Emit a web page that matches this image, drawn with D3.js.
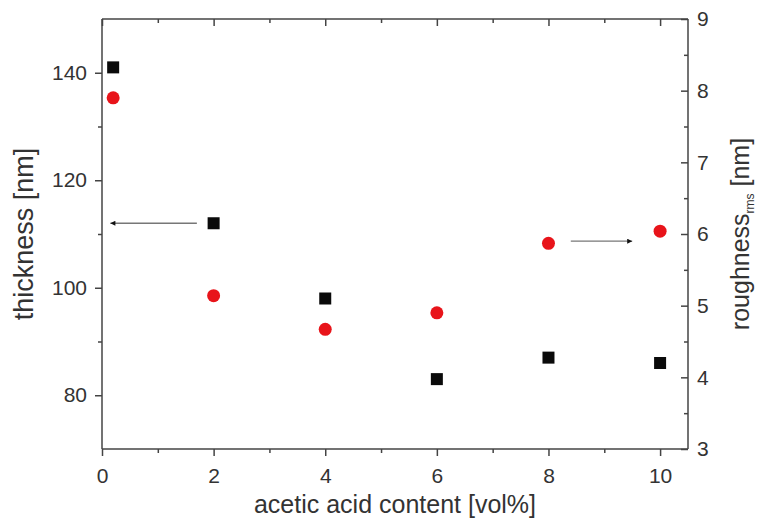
<!DOCTYPE html>
<html>
<head>
<meta charset="utf-8">
<script src="https://cdn.jsdelivr.net/npm/d3@7"></script>
<style>
  body { margin: 0; background: #fff; }
  text { font-family: "Liberation Sans", Arial, sans-serif; fill: #333; }
</style>
</head>
<body>
<svg id="base" width="758" height="524"></svg>
<script>
// data
const acid = [0.2, 2, 4, 6, 8, 10];
const thickness = [141, 112, 98, 83, 87, 86];
const roughness = [7.9, 5.14, 4.67, 4.9, 5.87, 6.04];
const xTicks = [0, 2, 4, 6, 8, 10];
const leftTicks = [80, 100, 120, 140];
const rightTicks = [3, 4, 5, 6, 7, 8, 9];
// arrows: [x1, x2, y] in data units
const arrowLeft = [1.7, 0.15, 112];
const arrowRight = [8.4, 9.5, 5.9];

const svg = d3.select("#base");
const plotLeft = 102, plotRight = 688, plotTop = 19, plotBottom = 449;
const axisColor = "#444";

const x = d3.scaleLinear().domain([0, 10.5]).range([plotLeft, plotRight]);
const yL = d3.scaleLinear().domain([70, 150]).range([plotBottom, plotTop]);
const yR = d3.scaleLinear().domain([3, 9]).range([plotBottom, plotTop]);

svg.append("defs").append("marker")
    .attr("id", "head")
    .attr("viewBox", "0 0 10 10")
    .attr("refX", 10).attr("refY", 5)
    .attr("markerWidth", 8).attr("markerHeight", 5)
    .attr("markerUnits", "userSpaceOnUse")
    .attr("orient", "auto")
    .append("path").attr("d", "M0,0L10,5L0,10z").attr("fill", "#111");

// axes
function styleAxis(g) {
    g.selectAll("path, line").attr("stroke", axisColor).attr("stroke-width", 1.5);
    g.selectAll("text").attr("fill", "#333").style("font-size", "21px")
        .style("font-family", "'Liberation Sans', Arial, sans-serif");
}

// minor ticks
const gMinorB = svg.append("g").attr("transform", `translate(0,${plotBottom})`)
    .call(d3.axisBottom(x).tickValues([1, 3, 5, 7, 9]).tickSize(4).tickFormat(""));
const gMinorT = svg.append("g").attr("transform", `translate(0,${plotTop})`)
    .call(d3.axisBottom(x).tickValues([1, 3, 5, 7, 9]).tickSize(4).tickFormat(""));
const gMinorT2 = svg.append("g").attr("transform", `translate(0,${plotTop})`)
    .call(d3.axisBottom(x).tickValues(xTicks).tickSize(7).tickFormat(""));
const gMinorL = svg.append("g").attr("transform", `translate(${plotLeft},0)`)
    .call(d3.axisLeft(yL).tickValues([90, 110, 130]).tickSize(4).tickFormat(""));
const gMinorR = svg.append("g").attr("transform", `translate(${plotRight},0)`)
    .call(d3.axisLeft(yR).tickValues([3.5, 4.5, 5.5, 6.5, 7.5, 8.5]).tickSize(4).tickFormat(""));
[gMinorB, gMinorT, gMinorT2, gMinorL, gMinorR].forEach(g => {
    g.select(".domain").remove();
    styleAxis(g);
});

const gx = svg.append("g").attr("transform", `translate(0,${plotBottom})`)
    .call(d3.axisBottom(x).tickValues(xTicks).tickSize(7).tickPadding(12));
gx.select(".domain").attr("d", `M${plotLeft},0H${plotRight}`);
styleAxis(gx);

svg.append("line").attr("x1", plotLeft).attr("x2", plotRight)
    .attr("y1", plotTop).attr("y2", plotTop)
    .attr("stroke", axisColor).attr("stroke-width", 1.5);

const gl = svg.append("g").attr("transform", `translate(${plotLeft},0)`)
    .call(d3.axisLeft(yL).tickValues(leftTicks).tickSize(7).tickPadding(8));
gl.select(".domain").attr("d", `M0,${plotTop}V${plotBottom}`);
styleAxis(gl);

const gr = svg.append("g").attr("transform", `translate(${plotRight},0)`)
    .call(d3.axisRight(yR).tickValues(rightTicks).tickSize(0).tickPadding(9).tickFormat(d3.format("d")));
gr.select(".domain").attr("d", `M0,${plotTop}V${plotBottom}`);
styleAxis(gr);
gr.selectAll(".tick line").attr("x2", -7);

// points
svg.append("g").selectAll("circle")
    .data(acid)
    .enter()
    .append("circle")
    .attr("cx", d => x(d))
    .attr("cy", (d, i) => yR(roughness[i]))
    .attr("r", 6.5)
    .attr("fill", "#e8141a");

svg.append("g").selectAll("rect")
    .data(acid)
    .enter()
    .append("rect")
    .attr("x", d => x(d) - 6)
    .attr("y", (d, i) => yL(thickness[i]) - 6)
    .attr("width", 12)
    .attr("height", 12)
    .attr("fill", "#0a0a0a");

// arrows
svg.append("line")
    .attr("x1", x(arrowLeft[0])).attr("x2", x(arrowLeft[1]))
    .attr("y1", yL(arrowLeft[2])).attr("y2", yL(arrowLeft[2]))
    .attr("stroke", "#777").attr("stroke-width", 1.3)
    .attr("marker-end", "url(#head)");
svg.append("line")
    .attr("x1", x(arrowRight[0])).attr("x2", x(arrowRight[1]))
    .attr("y1", yR(arrowRight[2])).attr("y2", yR(arrowRight[2]))
    .attr("stroke", "#777").attr("stroke-width", 1.3)
    .attr("marker-end", "url(#head)");

// titles
svg.append("text")
    .attr("x", (plotLeft + plotRight) / 2).attr("y", 513)
    .attr("text-anchor", "middle")
    .style("font-size", "25px")
    .text("acetic acid content [vol%]");

svg.append("text")
    .attr("transform", `translate(33,${(plotTop + plotBottom) / 2}) rotate(-90)`)
    .attr("text-anchor", "middle")
    .style("font-size", "27px")
    .text("thickness [nm]");

const rt = svg.append("text")
    .attr("transform", `translate(749,${(plotTop + plotBottom) / 2}) rotate(-90)`)
    .attr("text-anchor", "middle")
    .style("font-size", "25px");
rt.append("tspan").text("roughness");
rt.append("tspan").attr("dy", 5).style("font-size", "12px").text("rms");
rt.append("tspan").attr("dy", -5).text(" [nm]");
</script>
</body>
</html>
